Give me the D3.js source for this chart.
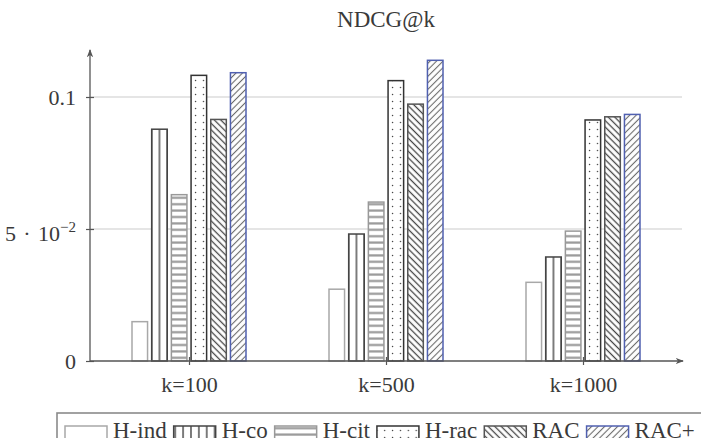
<!DOCTYPE html>
<html lang="en">
<head>
<meta charset="UTF-8">
<title>NDCG@k</title>
<script src="https://d3js.org/d3.v7.min.js"></script>
<style>
  body { margin: 0; background: #fff; }
</style>
</head>
<body>
<script>
// data
const groups = ["k=100", "k=500", "k=1000"];
const series = ["H-ind", "H-co", "H-cit", "H-rac", "RAC", "RAC+"];
const hInd  = [0.0149, 0.0272, 0.0298];
const hCo   = [0.0878, 0.0481, 0.0394];
const hCit  = [0.0630, 0.0602, 0.0492];
const hRac  = [0.1082, 0.1062, 0.0913];
const rac   = [0.0915, 0.0973, 0.0925];
const racP  = [0.1092, 0.1139, 0.0934];
const yTicks = [0, 0.05, 0.1];

const values = [hInd, hCo, hCit, hRac, rac, racP];
const stroke = ["#a8a8a8", "#444", "#999", "#333", "#555", "#5060b0"];
const fills  = ["#fff", "url(#vlines)", "url(#hlines)", "url(#dots)", "url(#nwlines)", "url(#nelines)"];
const FONT = "'Liberation Serif', serif";
const TXT = "#3a3a3a";

const W = 701, H = 438;
const svg = d3.select("body").append("svg")
    .attr("width", W).attr("height", H)
    .attr("font-family", FONT);

const x0 = d3.scalePoint().domain(groups).range([189, 583]);
const x1 = d3.scaleBand().domain(series).range([-57, 57]).paddingInner(0.21).paddingOuter(0);
const y = d3.scaleLinear().domain([0, 0.1]).range([361, 97]);
const bw = x1.bandwidth();

// patterns
const defs = svg.append("defs");
const vx = x0(groups[0]) + x1("H-co") + bw / 2;
const vstep = (x0(groups[1]) - x0(groups[0])) / 25;
const pv = defs.append("pattern").attr("id", "vlines")
    .attr("patternUnits", "userSpaceOnUse")
    .attr("x", vx).attr("y", 0).attr("width", vstep).attr("height", 10);
pv.append("rect").attr("width", vstep).attr("height", 10).attr("fill", "#fff");
pv.append("line").attr("x1", 0).attr("x2", 0).attr("y1", 0).attr("y2", 10)
    .attr("stroke", "#444").attr("stroke-width", 1.4);
pv.append("line").attr("x1", vstep).attr("x2", vstep).attr("y1", 0).attr("y2", 10)
    .attr("stroke", "#444").attr("stroke-width", 1.4);

const ph = defs.append("pattern").attr("id", "hlines")
    .attr("patternUnits", "userSpaceOnUse")
    .attr("x", 0).attr("y", y(0)).attr("width", 10).attr("height", 6.4);
ph.append("rect").attr("width", 10).attr("height", 6.4).attr("fill", "#fff");
ph.append("line").attr("x1", 0).attr("x2", 10).attr("y1", 3.2).attr("y2", 3.2)
    .attr("stroke", "#999").attr("stroke-width", 2.2);

const pd = defs.append("pattern").attr("id", "dots")
    .attr("patternUnits", "userSpaceOnUse")
    .attr("x", x0(groups[0]) + x1("H-rac") + 1).attr("y", 0).attr("width", 7.88).attr("height", 7);
pd.append("rect").attr("width", 7.88).attr("height", 7).attr("fill", "#fff");
pd.append("circle").attr("cx", 3.5).attr("cy", 3.5).attr("r", 0.75).attr("fill", "#444");

function diag(id, angle, color, sw) {
  const p = defs.append("pattern").attr("id", id)
      .attr("patternUnits", "userSpaceOnUse")
      .attr("width", 10).attr("height", 4.6)
      .attr("patternTransform", `rotate(${angle})`);
  p.append("rect").attr("width", 10).attr("height", 4.6).attr("fill", "#fff");
  p.append("line").attr("x1", 0).attr("x2", 10).attr("y1", 2.3).attr("y2", 2.3)
      .attr("stroke", color).attr("stroke-width", sw);
}
diag("nwlines", 45, "#444", 1.3);
diag("nelines", -45, "#6a6a6a", 1.1);

// title
svg.append("text").attr("x", 386).attr("y", 27)
    .attr("text-anchor", "middle").attr("font-size", 23).attr("fill", TXT)
    .text("NDCG@k");

// grid
svg.append("g").selectAll("line").data(yTicks.filter(d => d > 0)).join("line")
    .attr("x1", 90).attr("x2", 682)
    .attr("y1", d => y(d)).attr("y2", d => y(d))
    .attr("stroke", "#dcdcdc").attr("stroke-width", 1.5);

// bars
const bars = svg.append("g");
series.forEach((s, i) => {
  bars.selectAll(null).data(values[i]).join("rect")
      .attr("x", (d, j) => x0(groups[j]) + x1(s))
      .attr("y", d => y(d))
      .attr("width", bw)
      .attr("height", d => y(0) - y(d))
      .attr("fill", fills[i])
      .attr("stroke", stroke[i])
      .attr("stroke-width", 1.5);
});

// axes
svg.append("defs").append("marker").attr("id", "arrow")
    .attr("viewBox", "0 0 10 10").attr("refX", 8).attr("refY", 5)
    .attr("markerWidth", 7).attr("markerHeight", 7).attr("orient", "auto")
    .append("path").attr("d", "M0,1.5 L9,5 L0,8.5 L2.5,5 Z").attr("fill", "#555");

const yAxis = svg.append("g").attr("transform", "translate(90,0)")
    .call(d3.axisLeft(y).tickValues(yTicks).tickSize(4).tickPadding(10)
        .tickFormat(d => d === 0.05 ? "" : d3.format("")(d)))
    .attr("font-family", FONT);
yAxis.select(".domain").remove();
yAxis.selectAll(".tick line").attr("x1", -4).attr("x2", 4).attr("stroke", "#555").attr("stroke-width", 1.2);
yAxis.selectAll(".tick text").attr("font-size", 22).attr("fill", TXT).attr("dy", "0.36em");
yAxis.selectAll(".tick").filter(d => d === 0.05).select("text")
    .attr("dy", "0.5em")
    .call(t => {
      t.append("tspan").text("5\u2004·\u200410");
      t.append("tspan").attr("dy", "-0.6em").attr("font-size", 15).text("−2");
    });

const xAxis = svg.append("g").attr("transform", `translate(0,${y(0)})`)
    .call(d3.axisBottom(x0).tickSize(4).tickPadding(11))
    .attr("font-family", FONT);
xAxis.select(".domain").remove();
xAxis.selectAll(".tick line").attr("y1", -4).attr("y2", 4).attr("stroke", "#555").attr("stroke-width", 1.2);
xAxis.selectAll(".tick text").attr("font-size", 22).attr("fill", TXT);

svg.append("line").attr("x1", 90).attr("x2", 683).attr("y1", y(0)).attr("y2", y(0))
    .attr("stroke", "#555").attr("stroke-width", 1.3).attr("marker-end", "url(#arrow)");
svg.append("line").attr("x1", 90).attr("x2", 90).attr("y1", y(0)).attr("y2", 50)
    .attr("stroke", "#555").attr("stroke-width", 1.3).attr("marker-end", "url(#arrow)");

// legend (cut by the bottom edge, as in the original)
const lg = svg.append("g");
lg.append("rect").attr("x", 57).attr("y", 413).attr("width", 700).attr("height", 40)
    .attr("fill", "#fff").attr("stroke", "#8a8a8a").attr("stroke-width", 1.6);
let lx = 65;
series.forEach((s, i) => {
  lg.append("rect").attr("x", lx).attr("y", 426).attr("width", 42).attr("height", 16)
      .attr("fill", fills[i]).attr("stroke", stroke[i]).attr("stroke-width", 1.5);
  const t = lg.append("text").attr("x", lx + 48).attr("y", 438)
      .attr("font-size", 23).attr("fill", TXT).text(s);
  lx += 48 + t.node().getComputedTextLength() + 7;
});
</script>
</body>
</html>
